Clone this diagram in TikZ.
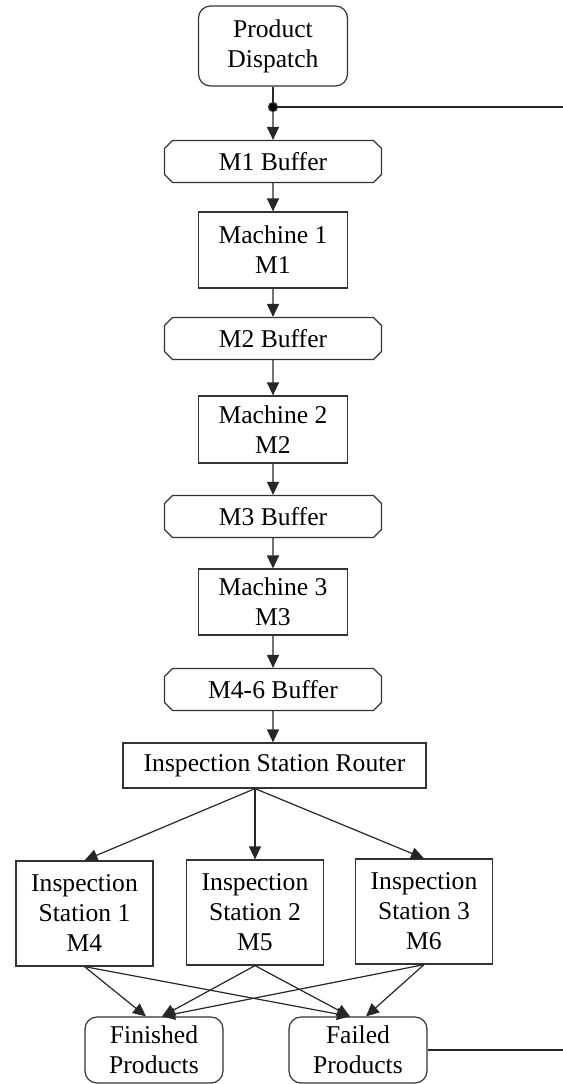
\documentclass[tikz,border=0pt]{standalone}
\usepackage{fontspec}
\setmainfont{Liberation Serif}
\usetikzlibrary{shapes.misc,arrows.meta}

\begin{document}
\begin{tikzpicture}[x=0.5pt,y=-0.5pt,
    every node/.style={font=\fontsize{12.8}{15}\selectfont,align=center,draw=black!80,line width=0.6pt,inner sep=0pt},
    endpoint/.style={rectangle,rounded corners=6pt,minimum width=74.5pt,minimum height=40pt},
    buffer/.style={chamfered rectangle,chamfered rectangle xsep=2pt,chamfered rectangle ysep=2pt,minimum width=108.5pt,minimum height=21pt},
    machine/.style={rectangle,minimum width=74.5pt},
    station/.style={rectangle,minimum width=68.5pt,minimum height=52.5pt},
    flow/.style={-{Triangle[length=6.5pt,width=6pt]},line width=0.6pt,draw=black!85},
    plain/.style={line width=0.6pt,draw=black!85}]
  \useasboundingbox (0,0) rectangle (563,1084);

  % main line
  \node[endpoint] (dispatch) at (273,46) {Product\\Dispatch};
  \node[fill=black,circle,minimum size=4.5pt] (split) at (273,107) {};
  \coordinate (loopout) at (563,107);
  \node[buffer] (buf1) at (273,161.5) {M1 Buffer};
  \node[machine,minimum height=38pt] (mach1) at (273,250) {Machine 1\\M1};
  \node[buffer] (buf2) at (273,338.5) {M2 Buffer};
  \node[machine,minimum height=33.5pt] (mach2) at (273,429.5) {Machine 2\\M2};
  \node[buffer] (buf3) at (273,516.5) {M3 Buffer};
  \node[machine,minimum height=33pt] (mach3) at (273,602) {Machine 3\\M3};
  \node[buffer] (buf4) at (273,689.5) {M4-6 Buffer};
  \node[rectangle,minimum width=151.5pt,minimum height=22.5pt] (router) at (274.5,765.5) {Inspection Station Router};

  % inspection
  \node[station] (insp1) at (84.5,913.5) {Inspection\\Station 1\\M4};
  \node[station] (insp2) at (255,912.5) {Inspection\\Station 2\\M5};
  \node[station] (insp3) at (424,911.5) {Inspection\\Station 3\\M6};
  \coordinate (fork) at (router.south -| insp2.north);

  % outputs
  \node[endpoint,minimum width=69pt,minimum height=33pt] (finished) at (154,1050) {Finished\\Products};
  \node[endpoint,minimum width=69pt,minimum height=33pt] (failed) at (358,1050) {Failed\\Products};
  \coordinate (failout) at (563,1050);

  \draw[plain] (dispatch) -- (split);
  \draw[plain] (split) -- (loopout);
  \draw[flow] (split) -- (buf1);
  \draw[flow] (buf1) -- (mach1);
  \draw[flow] (mach1) -- (buf2);
  \draw[flow] (buf2) -- (mach2);
  \draw[flow] (mach2) -- (buf3);
  \draw[flow] (buf3) -- (mach3);
  \draw[flow] (mach3) -- (buf4);
  \draw[flow] (buf4) -- (buf4 |- router.north);

  \draw[flow] (fork) -- (insp1.north);
  \draw[flow] (fork) -- (insp2.north);
  \draw[flow] (fork) -- (insp3.north);

  \draw[flow] (insp1.south) -- ([xshift=-4pt]finished.north);
  \draw[flow] (insp1.south) -- ([xshift=-4pt]failed.north);
  \draw[flow] (insp2.south) -- ([xshift=4pt]finished.north);
  \draw[flow] (insp2.south) -- ([xshift=-4pt]failed.north);
  \draw[flow] (insp3.south) -- ([xshift=4pt]finished.north);
  \draw[flow] (insp3.south) -- ([xshift=4pt]failed.north);
  \draw[plain] (failed.east) -- (failout);
\end{tikzpicture}
\end{document}
